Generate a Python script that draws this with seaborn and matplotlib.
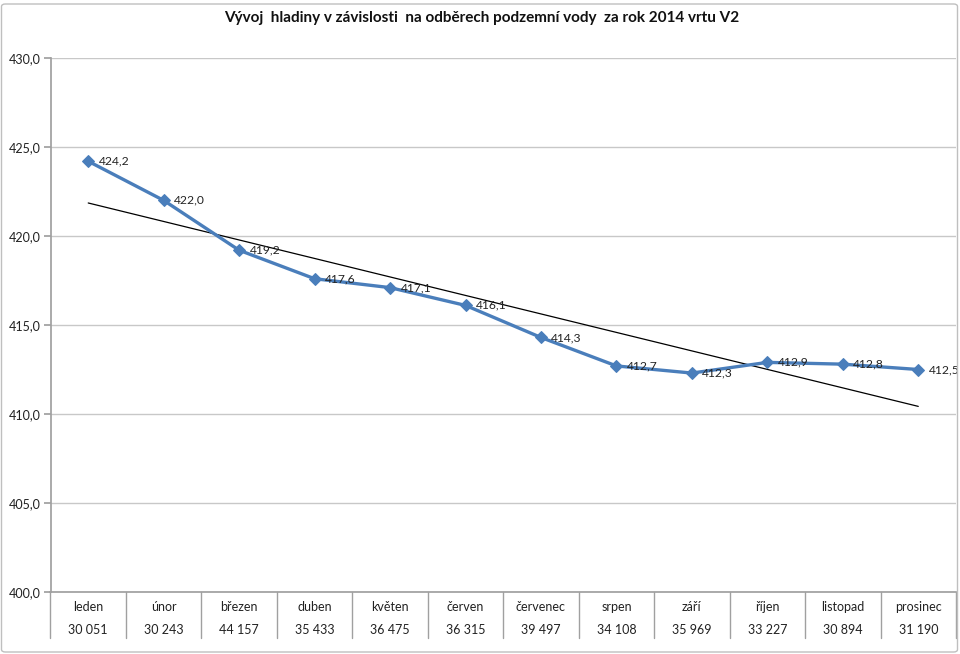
import numpy as np
import pandas as pd
import matplotlib
matplotlib.use("Agg")
import matplotlib.pyplot as plt
from matplotlib.patches import FancyBboxPatch
from matplotlib.transforms import blended_transform_factory
import seaborn as sns

months = ["leden", "únor", "březen", "duben", "květen", "červen", "červenec",
          "srpen", "září", "říjen", "listopad", "prosinec"]
levels = [424.2, 422.0, 419.2, 417.6, 417.1, 416.1, 414.3, 412.7, 412.3, 412.9, 412.8, 412.5]
withdrawals = ["30 051", "30 243", "44 157", "35 433", "36 475", "36 315", "39 497",
               "34 108", "35 969", "33 227", "30 894", "31 190"]
y_ticks = [400, 405, 410, 415, 420, 425, 430]
title = "Vývoj  hladiny v závislosti  na odběrech podzemní vody  za rok 2014 vrtu V2"

sns.set_theme(style="white")
plt.rcParams['font.family'] = ['Lato', 'DejaVu Sans']

df = pd.DataFrame({"idx": np.arange(len(months)), "level": levels})

fig = plt.figure(figsize=(9.6, 6.54), dpi=100)
W, H = 960, 654
ax = fig.add_axes([50.5 / W, 1 - 592 / H, (956 - 50.5) / W, (592 - 58) / H])

# outer chart border
fig.patches.append(FancyBboxPatch((1.5 / W, 2 / H), 956 / W, 648 / H,
                                  boxstyle="round,pad=0,rounding_size=0.004",
                                  transform=fig.transFigure, fill=False,
                                  edgecolor="#bfbfbf", linewidth=1.0))

color = "#4a7ebb"
sns.lineplot(data=df, x="idx", y="level", ax=ax, color=color, linewidth=2.4,
             marker="D", markersize=6.5, markeredgecolor=color, markerfacecolor=color)

# linear trend
coef = np.polyfit(df["idx"], df["level"], 1)
ax.plot(df["idx"], np.polyval(coef, df["idx"]), color="black", linewidth=0.9, zorder=1)

for i, v in enumerate(levels):
    ax.annotate(f"{v:.1f}".replace(".", ","), (i, v), xytext=(7.5, 0),
                textcoords="offset points", ha="left", va="center",
                fontsize=8.7, color="#222222", annotation_clip=False)

ax.set_xlim(-0.5, len(months) - 0.5)
ax.set_ylim(400, 430)
ax.set_yticks(y_ticks)
ax.set_yticklabels([f"{t:.1f}".replace(".", ",") for t in y_ticks], fontsize=9, color="#222222")
ax.set_xticks([])
ax.set_xlabel("")
ax.set_ylabel("")
ax.grid(axis="y", color="#c8c8c8", linewidth=1.0)
ax.grid(axis="x", visible=False)
for s in ["top", "right"]:
    ax.spines[s].set_visible(False)
ax.spines["left"].set_color("#a0a0a0")
ax.spines["bottom"].set_color("#a0a0a0")
ax.tick_params(axis="y", length=5, color="#a0a0a0", direction="out", left=True, pad=2)

# data table
tr = blended_transform_factory(ax.transData, ax.transAxes)
for i, (m, w) in enumerate(zip(months, withdrawals)):
    ax.text(i, -0.029, m, transform=tr, ha="center", va="center", fontsize=9, color="#222222")
    ax.text(i, -0.072, w, transform=tr, ha="center", va="center", fontsize=9, color="#222222")
for b in np.arange(-0.5, len(months)):
    ax.plot([b, b], [0, -0.086], transform=tr, color="#a0a0a0", linewidth=1.0, clip_on=False)

fig.text(482 / W, 1 - 18 / H, title, ha="center", va="center", fontsize=11,
         fontweight="bold", color="#111111")

fig.savefig("out.png", dpi=100)
